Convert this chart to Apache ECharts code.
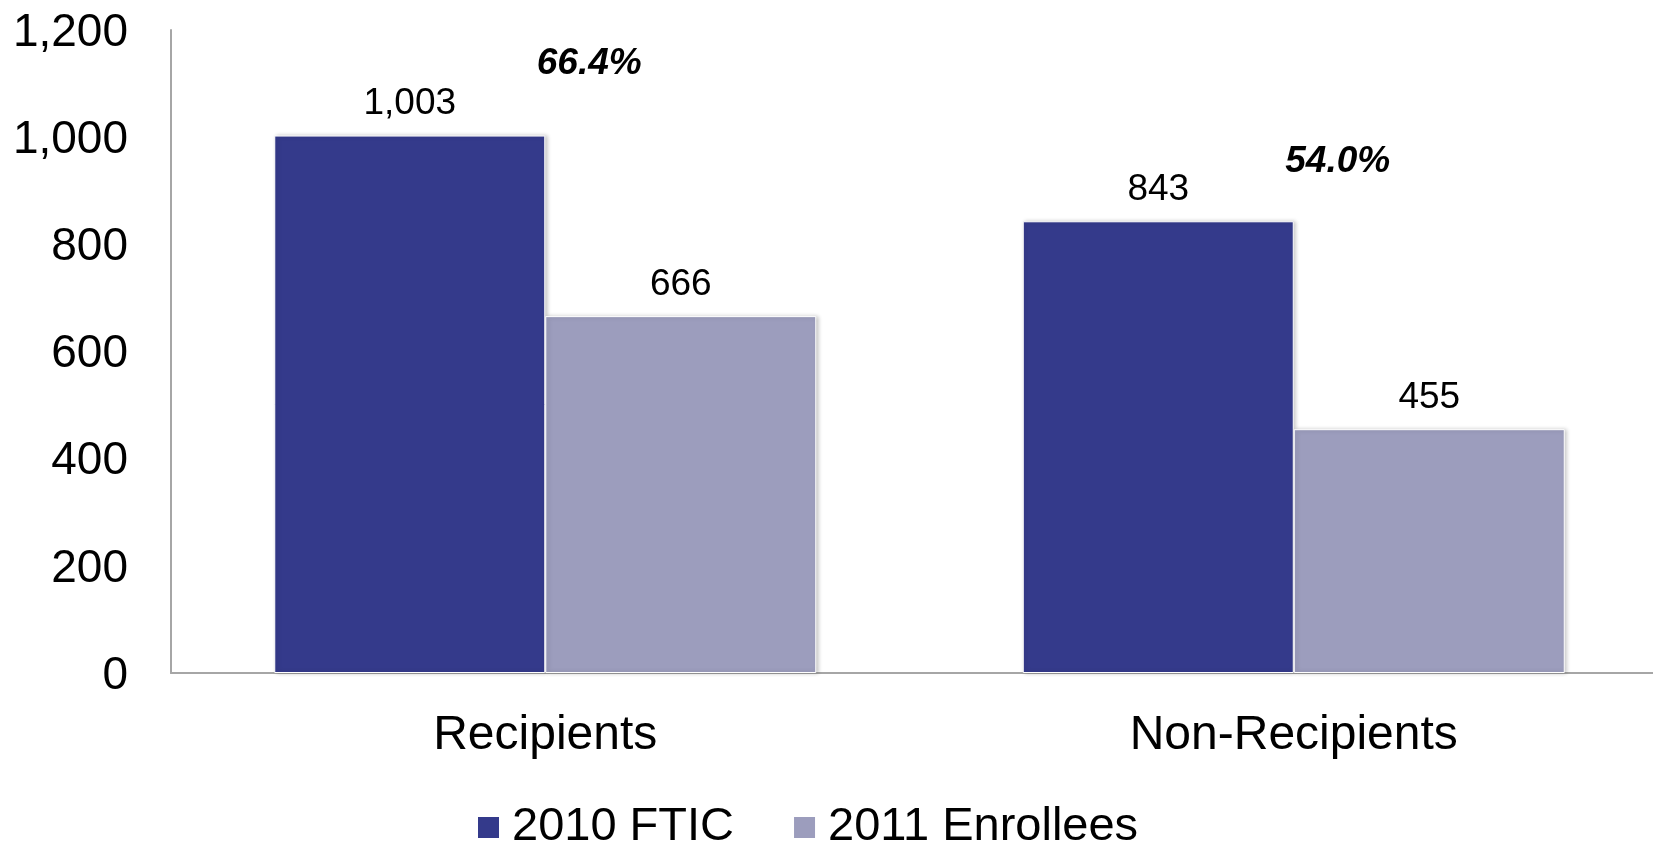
<!DOCTYPE html>
<html>
<head>
<meta charset="utf-8">
<title>FTIC Retention</title>
<script src="https://cdn.jsdelivr.net/npm/echarts@6/dist/echarts.min.js"></script>
<style>
  html, body { margin: 0; padding: 0; background: #ffffff; }
  #chart { width: 1653px; height: 845px; }
</style>
</head>
<body>
<div id="chart"></div>
<script>
// Groups along the x axis
const categories = ['Recipients', 'Non-Recipients'];

// Headcounts per group
const ftic2010 = [1003, 843];
const enrollees2011 = [666, 455];

// Series names shown in the legend
const seriesNames = ['2010 FTIC', '2011 Enrollees'];

// Y axis ticks
const yMin = 0;
const yMax = 1200;
const yStep = 200;

// Height (in axis units) at which each retention-rate note sits
const rateLabelHeight = [1136, 954];

const FONT = '"Liberation Sans", Arial, Helvetica, sans-serif';
const DARK = '#343A8B';
const LIGHT = '#9C9DBD';

// Retention rate = next-year enrollees / first-year cohort
const rateData = categories.map((c, i) => ({
  value: [i, rateLabelHeight[i]],
  rate: (enrollees2011[i] / ftic2010[i] * 100).toFixed(1) + '%'
}));

const barStyle = (color) => ({
  color: color,
  borderColor: '#ffffff',
  borderWidth: 1,
  shadowColor: 'rgba(0,0,0,0.22)',
  shadowBlur: 4,
  shadowOffsetX: 2,
  shadowOffsetY: 0
});

const valueLabel = {
  show: true,
  position: 'top',
  distance: 13,
  color: '#000000',
  fontFamily: FONT,
  fontSize: 37,
  formatter: (p) => p.value.toLocaleString('en-US')
};

const chart = echarts.init(document.getElementById('chart'), null, { renderer: 'canvas' });

chart.setOption({
  backgroundColor: '#ffffff',
  animation: false,
  grid: {
    left: 171,
    top: 30,
    bottom: 172,
    width: 1497,
    containLabel: false,
    outerBoundsMode: 'none'
  },
  legend: {
    data: seriesNames,
    left: 471,
    top: 799,
    icon: 'rect',
    itemWidth: 23,
    itemHeight: 23,
    itemGap: 58,
    textStyle: {
      color: '#000000',
      fontFamily: FONT,
      fontSize: 47,
      padding: [0, 0, 0, 7]
    }
  },
  xAxis: {
    type: 'category',
    data: categories,
    axisLine: { show: true, lineStyle: { color: '#A6A6A6', width: 2 } },
    axisTick: { show: false },
    axisLabel: {
      color: '#000000',
      fontFamily: FONT,
      fontSize: 48,
      margin: 39
    },
    splitLine: { show: false }
  },
  yAxis: {
    type: 'value',
    min: yMin,
    max: yMax,
    interval: yStep,
    axisLine: { show: true, lineStyle: { color: '#A6A6A6', width: 2 } },
    axisTick: { show: false },
    splitLine: { show: false },
    axisLabel: {
      color: '#000000',
      fontFamily: FONT,
      fontSize: 46,
      margin: 43,
      verticalAlign: 'top',
      lineHeight: 6,
      formatter: (v) => v.toLocaleString('en-US')
    }
  },
  series: [
    {
      name: seriesNames[0],
      type: 'bar',
      data: ftic2010,
      barWidth: 271,
      barGap: '0%',
      itemStyle: barStyle(DARK),
      label: valueLabel
    },
    {
      name: seriesNames[1],
      type: 'bar',
      data: enrollees2011,
      barWidth: 271,
      barGap: '0%',
      itemStyle: barStyle(LIGHT),
      label: valueLabel
    },
    {
      name: 'rate',
      type: 'scatter',
      data: rateData,
      symbolSize: 1,
      itemStyle: { color: '#ffffff', opacity: 1 },
      silent: true,
      label: {
        show: true,
        position: 'inside',
        offset: [44, 0],
        color: '#000000',
        textBorderWidth: 0,
        fontFamily: FONT,
        fontSize: 37,
        fontWeight: 'bold',
        fontStyle: 'italic',
        formatter: (p) => p.data.rate
      }
    }
  ]
});
</script>
</body>
</html>
